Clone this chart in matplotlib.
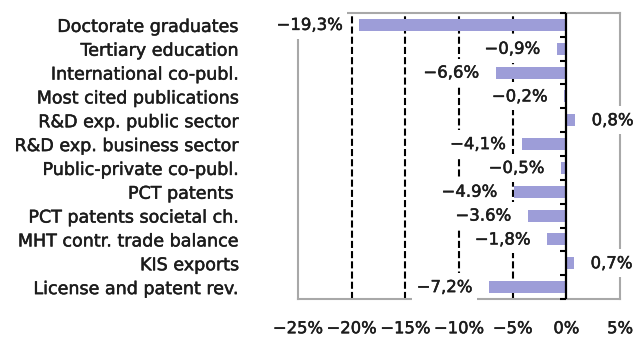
import matplotlib
matplotlib.use("Agg")
import matplotlib.pyplot as plt
import matplotlib.patheffects as pe
import numpy as np

categories = [
    "Doctorate graduates",
    "Tertiary education",
    "International co-publ.",
    "Most cited publications",
    "R&D exp. public sector",
    "R&D exp. business sector",
    "Public-private co-publ.",
    "PCT patents ",
    "PCT patents societal ch.",
    "MHT contr. trade balance",
    "KIS exports",
    "License and patent rev.",
]
values = [-19.3, -0.9, -6.6, -0.2, 0.8, -4.1, -0.5, -4.9, -3.6, -1.8, 0.7, -7.2]
decimal_marks = [",", ",", ",", ",", ",", ",", ",", ".", ".", ",", ",", ","]
xticks = [-25, -20, -15, -10, -5, 0, 5]

BAR = "#9d9dd8"
FRAME = "#a8a8a8"
TEXT = "#1c1c1c"

plt.rcParams["font.family"] = ["DejaVu Sans"]
heavy = [pe.withStroke(linewidth=0.35, foreground=TEXT)]

fig = plt.figure(figsize=(6.34, 3.42), dpi=100)
ax = fig.add_axes([0.470, 0.1257, 0.508, 0.8363])

y = np.arange(len(categories))
ax.barh(y, values, height=0.5, color=BAR, zorder=3)

ax.set_xlim(xticks[0], xticks[-1])
ax.set_ylim(len(categories) - 0.5, -0.5)

# dashed reference lines inside the frame
for xv in xticks[1:-2]:
    ax.axvline(xv, color="black", lw=1.5, ls=(0, (3.4, 1.5)), zorder=1)

# zero axis with small marks between categories
ax.axvline(0, color="black", lw=1.6, zorder=4)
ax.hlines(np.arange(len(categories) + 1) - 0.5, -0.6, 0, color="black",
          lw=1.5, zorder=4, clip_on=False)

for s in ax.spines.values():
    s.set_color(FRAME)
    s.set_linewidth(1.5)
    s.set_zorder(2)

ax.set_xticks(xticks)
ax.set_xticklabels([f"{t}%".replace("-", "\u2212") for t in xticks])
ax.tick_params(axis="x", length=0, pad=16, labelsize=11.8, labelcolor=TEXT)

ax.set_yticks(y)
ax.set_yticklabels(categories)
ax.tick_params(axis="y", length=0, pad=42, labelsize=12.6, labelcolor=TEXT)

for lbl in ax.get_xticklabels() + ax.get_yticklabels():
    lbl.set_path_effects(heavy)

for yi, v, sep in zip(y, values, decimal_marks):
    txt = f"{v:.1f}%".replace(".", sep).replace("-", "\u2212")
    off = 12 if v >= 0 else -12
    ax.annotate(txt, xy=(v, yi), xytext=(off, 0), textcoords="offset points",
                ha="left" if v >= 0 else "right", va="center",
                fontsize=11.9, color=TEXT, zorder=6, annotation_clip=False,
                path_effects=heavy,
                bbox=dict(boxstyle="square,pad=0.3", fc="white", ec="none"))

fig.savefig("out.png", dpi=100, facecolor="white")
